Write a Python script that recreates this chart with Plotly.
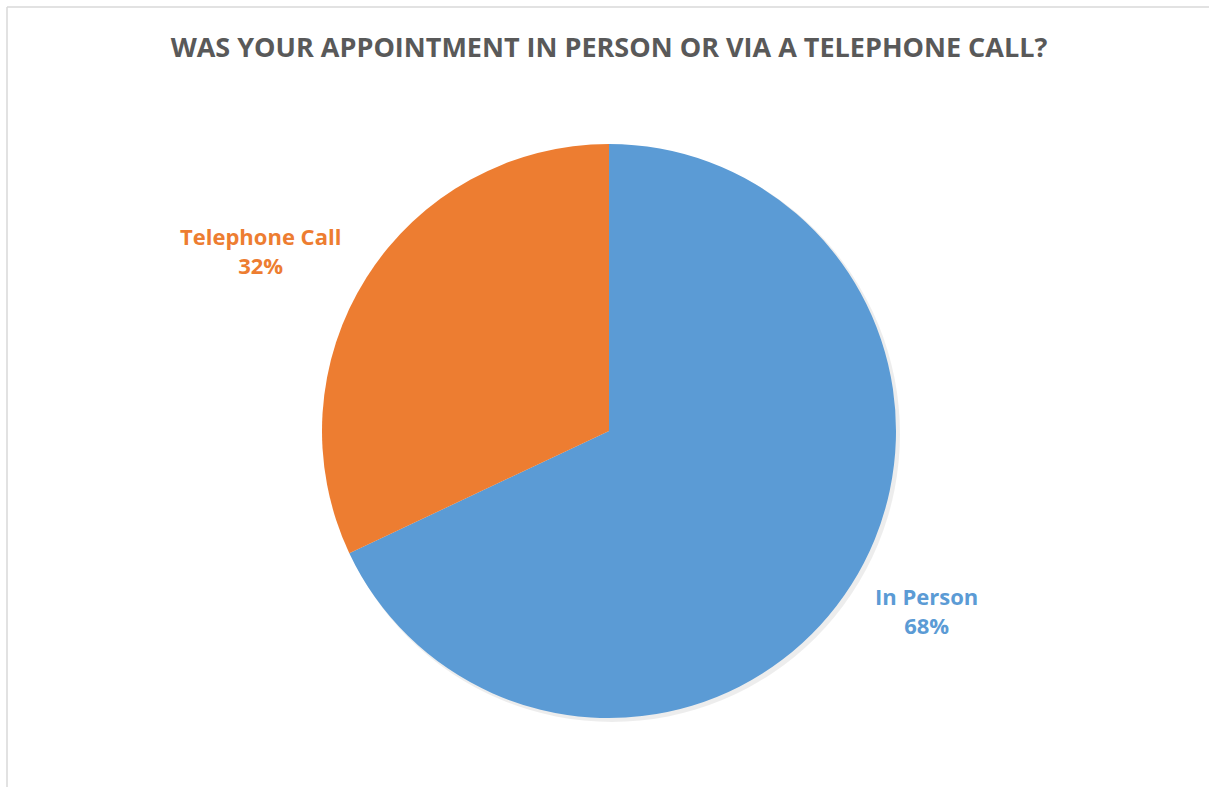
import plotly.graph_objects as go

# Survey answers
categories = ["In Person", "Telephone Call"]
shares = [68, 32]
colors = ["#5B9BD5", "#ED7D31"]
title_text = "WAS YOUR APPOINTMENT IN PERSON OR VIA A TELEPHONE CALL?"

W, H = 1209, 787
cx, cy, r = 609, 431, 287  # pie centre and radius in pixels


def px_x(x):
    return x / W


def px_y(y):
    return 1 - y / H


fig = go.Figure()

# faint drop shadow behind the pie
fig.add_trace(go.Pie(
    values=[1], labels=["shadow"],
    marker=dict(colors=["rgba(0,0,0,0.07)"], line=dict(width=0)),
    textinfo="none", hoverinfo="skip", sort=False, showlegend=False,
    domain=dict(x=[px_x(cx - r + 2), px_x(cx + r + 4)],
                y=[px_y(cy + r + 4), px_y(cy - r + 2)]),
))

fig.add_trace(go.Pie(
    labels=categories, values=shares,
    marker=dict(colors=colors, line=dict(color="white", width=0)),
    sort=False, direction="clockwise", rotation=0,
    textinfo="none", showlegend=False,
    domain=dict(x=[px_x(cx - r), px_x(cx + r)], y=[px_y(cy + r), px_y(cy - r)]),
))

# data labels beside each slice
label_pos = {"In Person": (926, 610), "Telephone Call": (260, 250)}
for cat, val, col in zip(categories, shares, colors):
    lx, ly = label_pos[cat]
    fig.add_annotation(
        x=px_x(lx), y=px_y(ly), xref="paper", yref="paper",
        text=f"<b>{cat}<br>{val}%</b>", showarrow=False,
        font=dict(family="Open Sans", size=22, color=col),
        align="center", xanchor="center", yanchor="middle",
    )

# chart area border (left and top edges)
fig.add_shape(type="line", xref="paper", yref="paper",
              x0=px_x(7), x1=px_x(7), y0=px_y(7), y1=px_y(H + 5),
              line=dict(color="#D9D9D9", width=1.5))
fig.add_shape(type="line", xref="paper", yref="paper",
              x0=px_x(7), x1=px_x(W + 5), y0=px_y(7), y1=px_y(7),
              line=dict(color="#D9D9D9", width=1.5))

fig.update_layout(
    width=W, height=H,
    margin=dict(l=0, r=0, t=0, b=0),
    paper_bgcolor="white", plot_bgcolor="white",
    title=dict(text=f"<b>{title_text}</b>", x=px_x(cx), xanchor="center",
               y=px_y(48), yanchor="middle",
               font=dict(family="Open Sans", size=27, color="#595959")),
)

fig.write_html("out.html")
